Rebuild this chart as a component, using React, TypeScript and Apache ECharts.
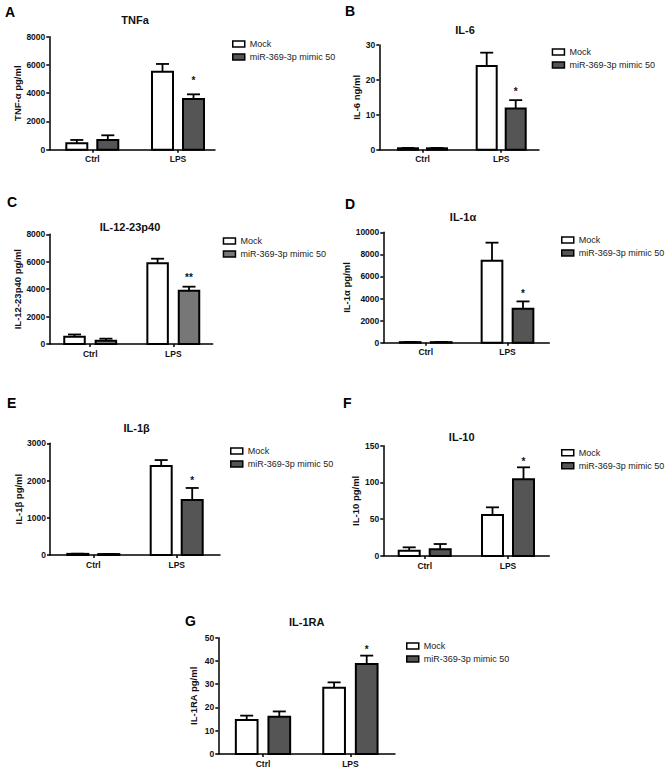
import React, { useEffect, useRef } from "react";
import * as echarts from "echarts";

const FONT = "Liberation Sans, Arial, Helvetica, sans-serif";

// ---- data ----
const categories = ["Ctrl", "LPS"];
const seriesNames = ["Mock", "miR-369-3p mimic 50"];

const tnfaMock = [450, 5520];
const tnfaMockSem = [240, 550];
const tnfaMimic = [690, 3590];
const tnfaMimicSem = [330, 330];
const tnfaSig = ["", "*"];

const il6Mock = [0.4, 24.0];
const il6MockSem = [0.1, 3.8];
const il6Mimic = [0.4, 11.8];
const il6MimicSem = [0.1, 2.4];
const il6Sig = ["", "*"];

const il12Mock = [530, 5880];
const il12MockSem = [165, 340];
const il12Mimic = [240, 3890];
const il12MimicSem = [150, 290];
const il12Sig = ["", "**"];

const il1aMock = [50, 7430];
const il1aMockSem = [20, 1630];
const il1aMimic = [50, 3080];
const il1aMimicSem = [20, 660];
const il1aSig = ["", "*"];

const il1bMock = [30, 2390];
const il1bMockSem = [5, 160];
const il1bMimic = [25, 1480];
const il1bMimicSem = [5, 320];
const il1bSig = ["", "*"];

const il10Mock = [7.3, 55.8];
const il10MockSem = [4.5, 10.4];
const il10Mimic = [9.3, 104.3];
const il10MimicSem = [7.0, 16.3];
const il10Sig = ["", "*"];

const il1raMock = [14.6, 28.5];
const il1raMockSem = [1.9, 2.3];
const il1raMimic = [16.0, 38.7];
const il1raMimicSem = [2.3, 3.6];
const il1raSig = ["", "*"];

const yMaxes = [8000, 30, 8000, 10000, 3000, 150, 50];
const yIntervals = [2000, 10, 2000, 2000, 1000, 50, 10];

// ---- layout ----
const panels = [
  { letter: "A", lx: 5, ly: 5, title: "TNFa", tx: 135, ty: 20, ax: 49.3, yTop: 36.7, yBot: 149.7, xEnd: 215, cats: [92.3, 178], barW: 21, off: 15.5, legX: 232, legY: 44, nameX: 18, starGap: 14, yName: "TNF-\u03b1 pg/ml",
    mock: tnfaMock, mockSem: tnfaMockSem, mimic: tnfaMimic, mimicSem: tnfaMimicSem, sig: tnfaSig, mimicColor: "#555555" },
  { letter: "B", lx: 345, ly: 4, title: "IL-6", tx: 465, ty: 30, ax: 379.3, yTop: 45, yBot: 149.7, xEnd: 539, cats: [422.5, 501.2], barW: 20, off: 14.5, legX: 551.7, legY: 52, nameX: 362, starGap: 9, yName: "IL-6 ng/ml",
    mock: il6Mock, mockSem: il6MockSem, mimic: il6Mimic, mimicSem: il6MimicSem, sig: il6Sig, mimicColor: "#555555" },
  { letter: "C", lx: 7, ly: 195, title: "IL-12-23p40", tx: 130, ty: 226.7, ax: 49.3, yTop: 234.3, yBot: 344, xEnd: 212.7, cats: [90.2, 173.3], barW: 20.5, off: 15.7, legX: 222.7, legY: 241, nameX: 18, starGap: 9, yName: "IL-12-23p40 pg/ml",
    mock: il12Mock, mockSem: il12MockSem, mimic: il12Mimic, mimicSem: il12MimicSem, sig: il12Sig, mimicColor: "#777777" },
  { letter: "D", lx: 345, ly: 197, title: "IL-1\u03b1", tx: 463, ty: 216.7, ax: 383.3, yTop: 232.3, yBot: 342.7, xEnd: 549.3, cats: [425.7, 507.5], barW: 20.7, off: 15.5, legX: 561, legY: 240, nameX: 346.7, starGap: 8, yName: "IL-1\u03b1 pg/ml",
    mock: il1aMock, mockSem: il1aMockSem, mimic: il1aMimic, mimicSem: il1aMimicSem, sig: il1aSig, mimicColor: "#555555" },
  { letter: "E", lx: 7, ly: 396, title: "IL-1\u03b2", tx: 136.7, ty: 428.3, ax: 50, yTop: 443.3, yBot: 555, xEnd: 220, cats: [93.3, 176.7], barW: 21, off: 15.5, legX: 230, legY: 451, nameX: 18, starGap: 7, yName: "IL-1\u03b2 pg/ml",
    mock: il1bMock, mockSem: il1bMockSem, mimic: il1bMimic, mimicSem: il1bMimicSem, sig: il1bSig, mimicColor: "#555555" },
  { letter: "F", lx: 343, ly: 396, title: "IL-10", tx: 461.7, ty: 436.7, ax: 383.3, yTop: 445.7, yBot: 556, xEnd: 549.3, cats: [424.7, 508], barW: 21, off: 15.5, legX: 561, legY: 452.7, nameX: 355, starGap: 6, yName: "IL-10 pg/ml",
    mock: il10Mock, mockSem: il10MockSem, mimic: il10Mimic, mimicSem: il10MimicSem, sig: il10Sig, mimicColor: "#555555" },
  { letter: "G", lx: 185, ly: 614, title: "IL-1RA", tx: 306.7, ty: 621.7, ax: 218.3, yTop: 637.7, yBot: 754, xEnd: 395, cats: [263, 350.4], barW: 21.7, off: 16.3, legX: 406, legY: 646, nameX: 193.3, starGap: 6, yName: "IL-1RA pg/ml",
    mock: il1raMock, mockSem: il1raMockSem, mimic: il1raMimic, mimicSem: il1raMimicSem, sig: il1raSig, mimicColor: "#555555" },
];

function barSeries(pi: number, name: string, values: number[], sems: number[], sig: string[], centers: number[], offset: number, barW: number, fill: string, starGap: number) {
  const capW = 13;
  return {
    type: "custom",
    name,
    xAxisIndex: pi,
    yAxisIndex: pi,
    itemStyle: { color: fill, borderColor: "#000", borderWidth: 1.5 },
    data: values.map((v, k) => [centers[k] + offset, v, sems[k]]),
    renderItem: (params: any, api: any) => {
      const x = api.value(0);
      const v = api.value(1);
      const s = api.value(2);
      const p0 = api.coord([x, 0]);
      const p1 = api.coord([x, v]);
      const p2 = api.coord([x, v + s]);
      const children: any[] = [
        { type: "line", shape: { x1: p0[0], y1: p1[1], x2: p0[0], y2: p2[1] }, style: { stroke: "#000", lineWidth: 1.8 } },
        { type: "line", shape: { x1: p0[0] - capW / 2, y1: p2[1], x2: p0[0] + capW / 2, y2: p2[1] }, style: { stroke: "#000", lineWidth: 1.8 } },
        { type: "rect", shape: { x: p0[0] - barW / 2, y: p1[1], width: barW, height: p0[1] - p1[1] }, style: { fill, stroke: "#000", lineWidth: 2 } },
      ];
      const st = sig[params.dataIndex];
      if (st) {
        children.push({
          type: "text",
          x: p0[0],
          y: p2[1] - starGap,
          style: { text: st, font: `bold 10px ${FONT}`, fill: "#111", textAlign: "center", textVerticalAlign: "middle" },
        });
      }
      return { type: "group", children };
    },
  };
}

export default function App() {
  const ref = useRef<HTMLDivElement>(null);
  useEffect(() => {
    if (!ref.current) return;
    const chart = echarts.init(ref.current, undefined, { renderer: "svg" });
    const grid: any[] = [];
    const xAxis: any[] = [];
    const yAxis: any[] = [];
    const series: any[] = [];
    const legend: any[] = [];
    const graphic: any[] = [];
    panels.forEach((p, i) => {
      const w = p.xEnd - p.ax;
      const rel = p.cats.map((c) => c - p.ax);
      grid.push({ left: p.ax, top: p.yTop, width: w, height: p.yBot - p.yTop, containLabel: false });
      xAxis.push({
        type: "value",
        gridIndex: i,
        min: 0,
        max: w,
        splitLine: { show: false },
        axisLine: { show: true, onZero: false, lineStyle: { color: "#000", width: 1.5 } },
        axisTick: { show: true, length: 3, customValues: rel, lineStyle: { color: "#000", width: 1.5 } },
        axisLabel: {
          show: true,
          customValues: rel,
          margin: 5,
          fontFamily: FONT,
          fontWeight: "bold",
          fontSize: 8.5,
          color: "#111",
          formatter: (val: number) => {
            const k = rel.findIndex((r) => Math.abs(r - val) < 0.01);
            return k >= 0 ? categories[k] : "";
          },
        },
      });
      yAxis.push({
        type: "value",
        gridIndex: i,
        min: 0,
        max: yMaxes[i],
        interval: yIntervals[i],
        name: p.yName,
        nameLocation: "middle",
        nameRotate: 90,
        nameGap: p.ax - p.nameX,
        nameTextStyle: { fontFamily: FONT, fontWeight: "bold", fontSize: 9.5, color: "#111", verticalAlign: "middle" },
        splitLine: { show: false },
        axisLine: { show: true, lineStyle: { color: "#000", width: 1.5 } },
        axisTick: { show: true, length: 3, lineStyle: { color: "#000", width: 1.5 } },
        axisLabel: { margin: 4, fontFamily: FONT, fontWeight: "bold", fontSize: 8.5, color: "#111", formatter: (v: number) => String(v) },
      });
      series.push(barSeries(i, seriesNames[0], p.mock, p.mockSem, ["", ""], rel, -p.off, p.barW, "#ffffff", p.starGap));
      series.push(barSeries(i, seriesNames[1], p.mimic, p.mimicSem, p.sig, rel, p.off, p.barW, p.mimicColor, p.starGap));
      legend.push({
        orient: "vertical",
        left: p.legX,
        top: p.legY - 6,
        padding: 0,
        itemWidth: 12,
        itemHeight: 6,
        itemGap: 1,
        selectedMode: false,
        textStyle: { fontFamily: FONT, fontSize: 9, lineHeight: 12, color: "#222" },
        data: [
          { name: seriesNames[0], icon: "rect", itemStyle: { color: "#ffffff", borderColor: "#000", borderWidth: 1.5 } },
          { name: seriesNames[1], icon: "rect", itemStyle: { color: p.mimicColor, borderColor: "#000", borderWidth: 1.5 } },
        ],
      });
      graphic.push({
        type: "text",
        left: p.lx,
        top: p.ly,
        style: { text: p.letter, font: `bold 14px ${FONT}`, fill: "#000" },
      });
      graphic.push({
        type: "text",
        x: p.tx,
        y: p.ty,
        style: { text: p.title, font: `bold 11px ${FONT}`, fill: "#111", textAlign: "center", textVerticalAlign: "middle" },
      });
    });
    chart.setOption({
      animation: false,
      backgroundColor: "#ffffff",
      grid,
      xAxis,
      yAxis,
      series,
      legend,
      graphic,
    });
    return () => chart.dispose();
  }, []);
  return <div ref={ref} style={{ position: "absolute", left: 0, top: 0, width: 669, height: 771 }} />;
}
